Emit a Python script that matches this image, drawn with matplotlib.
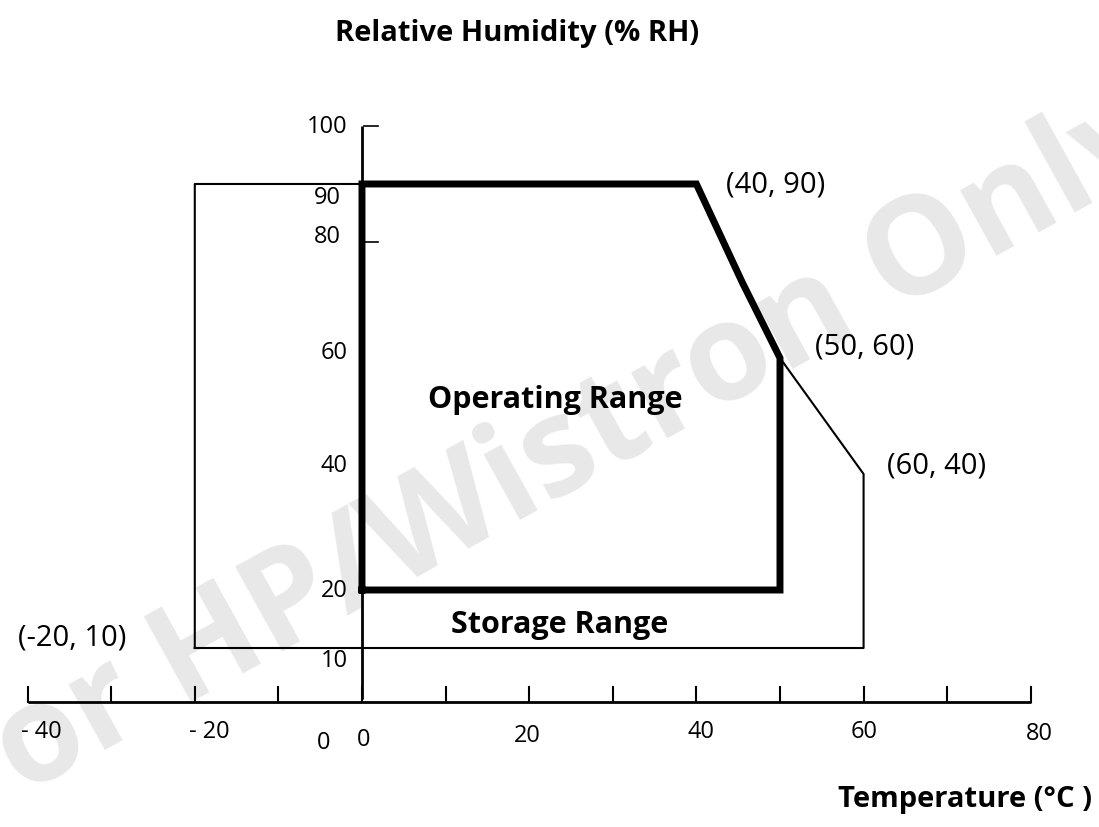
import matplotlib
matplotlib.use("Agg")
from matplotlib import pyplot as plt

plt.rcParams['font.family'] = ['Open Sans', 'DejaVu Sans']

# storage range polygon (temperature degC, relative humidity %)
storage_t = [-20, -20, 40, 50, 60, 60, -20]
storage_rh = [10, 90, 90, 60, 40, 10, 10]

# operating range polygon
operating_t = [0, 0, 40, 45.5, 50, 50, 0]
operating_rh = [20, 90, 90, 73, 60, 20, 20]

# axis ticks and labels
x_ticks = [-40, -30, -20, -10, 0, 10, 20, 30, 40, 50, 60, 70, 80]
x_labels = ["- 40", "- 20", "0", "0", "20", "40", "60", "80"]
x_label_at = [-38.3, -18.3, -4.6, 0.2, 19.8, 40.6, 60.1, 81.0]
x_label_y = [-4.5, -4.5, -6.3, -5.8, -5.2, -4.5, -4.5, -4.8]
y_labels = ["100", "90", "80", "60", "40", "20", "10"]
y_label_at = [99.8, 87.5, 80.9, 60.9, 41.4, 19.8, 7.7]
y_label_x = [-1.7, -2.5, -2.5, -1.7, -1.7, -1.7, -1.7]
y_ticks = [100, 80]

# corner annotations
corner_text = ["(40, 90)", "(50, 60)", "(60, 40)", "(-20, 10)"]
corner_x = [43.6, 54.2, 62.8, -41.2]
corner_y = [89.8, 61.9, 41.4, 11.7]

fig = plt.figure(figsize=(10.99, 8.27), dpi=100)
ax = fig.add_axes([0, 0, 1, 1])
ax.set_xlim(-43.3, 88.16)
ax.set_ylim(-20.86, 121.72)
ax.axis('off')

# watermark
ax.text(22.0, 41.5, "For HP/Wistron Only", fontsize=98, fontweight='bold',
        color='#e8e8e8', rotation=29, ha='center', va='center', zorder=0)

# axes lines
axis_y = 0.7
ax.plot([-40, 80], [axis_y, axis_y], color='black', lw=2, solid_capstyle='butt')
ax.plot([0, 0], [axis_y + 0.5, 100], color='black', lw=2, solid_capstyle='butt')
for xt in x_ticks:
    ax.plot([xt, xt], [axis_y, axis_y + 2.6], color='black', lw=1.5)
for yt in y_ticks:
    ax.plot([0.2, 1.9], [yt, yt], color='black', lw=1.2)

for lab, xp, yp in zip(x_labels, x_label_at, x_label_y):
    ax.text(xp, yp, lab, fontsize=17, ha='center', va='center')
for lab, xp, yp in zip(y_labels, y_label_x, y_label_at):
    ax.text(xp, yp, lab, fontsize=17, ha='right', va='center')

ax.plot(storage_t, storage_rh, color='black', lw=1.5)
ax.plot(operating_t, operating_rh, color='black', lw=5, solid_joinstyle='miter')

for t, xp, yp in zip(corner_text, corner_x, corner_y):
    ax.text(xp, yp, t, fontsize=21, ha='left', va='center')

ax.text(23.1, 52.8, "Operating Range", fontsize=22, fontweight='bold', ha='center', va='center')
ax.text(23.7, 14.0, "Storage Range", fontsize=22, fontweight='bold', ha='center', va='center')

fig.text(517 / 1099, 1 - 33 / 827, "Relative Humidity (% RH)", fontsize=21,
         fontweight='bold', ha='center', va='center')
fig.text(1092 / 1099, 1 - 800 / 827, "Temperature (°C )", fontsize=21,
         fontweight='bold', ha='right', va='center')

fig.savefig("out.png", dpi=100)
